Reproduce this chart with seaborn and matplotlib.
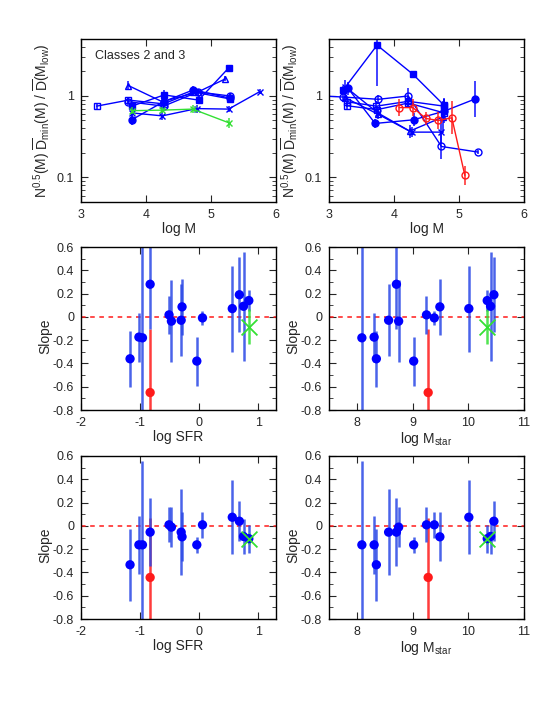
import numpy as np
import pandas as pd
import matplotlib
matplotlib.use("Agg")
import matplotlib.pyplot as plt
import matplotlib.ticker as mticker
import seaborn as sns

# ---- top-left panel: Classes 2 and 3 (x = log M, y = ratio, e = error in dex)
tl_series = {
    "osq":   ([3.24, 3.73, 4.27, 4.73, 5.29], [0.75, 0.89, 0.80, 1.12, 0.92], [0.03, 0.04, 0.05, 0.04, 0.05]),
    "fsq":   ([3.78, 4.28, 4.81, 5.27], [0.75, 1.03, 0.89, 2.2], [0.04, 0.06, 0.05, 0.03]),
    "tri":   ([3.73, 4.25, 4.80, 5.22], [1.34, 0.85, 1.12, 1.62], [0.06, 0.05, 0.04, 0.03]),
    "fci":   ([3.78, 4.27, 4.73, 5.29], [0.51, 0.85, 1.19, 0.94], [0.06, 0.05, 0.05, 0.06]),
    "cross": ([3.78, 4.25, 4.78, 5.27, 5.75], [0.62, 0.57, 0.70, 0.69, 1.13], [0.05, 0.05, 0.05, 0.04, 0.03]),
    "oci":   ([3.73, 4.27, 4.80, 5.29], [0.85, 0.75, 1.12, 1.00], [0.04, 0.04, 0.04, 0.04]),
    "green": ([3.78, 4.25, 4.72, 5.27], [0.66, 0.67, 0.69, 0.47], [0.04, 0.04, 0.05, 0.06]),
}

# ---- top-right panel
tr_series = {
    "fsq":   ([3.22, 3.74, 4.29, 4.77], [1.19, 4.2, 1.85, 0.77], [0.05, 0.5, 0.03, 0.08]),
    "fci":   ([3.29, 3.71, 4.30, 4.77, 5.25], [1.25, 0.46, 0.51, 0.65, 0.92], [0.08, 0.05, 0.08, 0.15, 0.22]),
    "oci":   ([2.9, 3.22, 3.76, 4.22, 4.73, 5.29], [1.0, 0.97, 0.91, 1.0, 0.24, 0.205], [0.0, 0.05, 0.05, 0.1, 0.15, 0.02]),
    "osq":   ([3.27, 3.73, 4.22, 4.77], [0.85, 0.75, 0.86, 0.75], [0.06, 0.06, 0.06, 0.1]),
    "tri":   ([3.25, 3.75, 4.24, 4.75], [0.95, 0.60, 0.37, 0.55], [0.05, 0.06, 0.08, 0.2]),
    "cross": ([3.25, 3.75, 4.27, 4.73], [1.3, 0.62, 0.36, 0.36], [0.08, 0.06, 0.06, 0.15]),
    "osq2":  ([3.27, 3.74, 4.22, 4.77], [0.76, 0.68, 0.82, 0.62], [0.05, 0.05, 0.05, 0.1]),
    "red":   ([4.08, 4.29, 4.49, 4.68, 4.89, 5.09], [0.72, 0.72, 0.53, 0.50, 0.54, 0.106], [0.1, 0.1, 0.08, 0.1, 0.2, 0.12]),
}

# ---- slope panels (one entry per galaxy)
log_sfr = [-1.17, -1.02, -0.96, -0.83, -0.83, -0.51, -0.47, -0.305, -0.29, -0.04, 0.056, 0.56, 0.68, 0.75, 0.84, 0.84]
log_mstar = [8.35, 8.31, 8.09, 8.71, 9.28, 9.25, 8.75, 8.57, 9.49, 9.02, 9.39, 10.01, 10.46, 10.40, 10.34, 10.34]
group = ["b"] * 4 + ["r"] + ["b"] * 10 + ["g"]
slope_mid = [-0.36, -0.174, -0.18, 0.28, -0.65, 0.017, -0.037, -0.029, 0.086, -0.38, -0.009, 0.071, 0.19, 0.091, 0.14, -0.086]
err_mid = [0.24, 0.21, 1.0, 0.38, 0.55, 0.16, 0.35, 0.31, 0.24, 0.21, 0.06, 0.37, 0.32, 0.47, 0.09, 0.15]
slope_bot = [-0.334, -0.163, -0.163, -0.054, -0.443, 0.009, -0.011, -0.054, -0.094, -0.163, 0.009, 0.074, 0.04, -0.091, -0.11, -0.11]
err_bot = [0.31, 0.25, 0.72, 0.29, 0.51, 0.15, 0.17, 0.37, 0.21, 0.07, 0.11, 0.32, 0.17, 0.15, 0.12, 0.05]

BLUE = "#0000ff"
EBLUE = "#2a48e6"
RED = "#ff1a1a"
GREEN = "#33e033"

markers = {
    "osq": ("s", False), "fsq": ("s", True), "tri": ("^", False), "fci": ("o", True),
    "cross": ("x", False), "oci": ("o", False), "osq2": ("s", False),
    "green": ("x", False), "red": ("o", False),
}

sns.set_style("ticks")
plt.rcParams["font.family"] = ["Liberation Sans", "DejaVu Sans"]
plt.rcParams["axes.unicode_minus"] = False
plt.rcParams["mathtext.fontset"] = "custom"
plt.rcParams["mathtext.rm"] = "Liberation Sans"
plt.rcParams["mathtext.it"] = "Liberation Sans:italic"

fig = plt.figure(figsize=(5.54, 7.17), dpi=100)
W, H = 554, 717


def add_ax(x0, y0, x1, y1):
    return fig.add_axes([x0 / W, 1 - y1 / H, (x1 - x0) / W, (y1 - y0) / H])


def style_ax(ax):
    ax.tick_params(direction="in", which="both", top=True, right=True, labelsize=9, length=5, pad=5)
    ax.tick_params(which="minor", length=3)
    for s in ax.spines.values():
        s.set_linewidth(1.0)
        s.set_color("black")


ylab_top = r"N$^{0.5}$(M) $\overline{\rm D}_{\rm min}$(M) / $\overline{\rm D}$(M$_{\rm low}$)"

# ---------------- top panels
for series, (x0, x1) in [(tl_series, (81, 276)), (tr_series, (329, 524))]:
    ax = add_ax(x0, 39, x1, 202)
    for name, (xs, ys, es) in series.items():
        col = GREEN if name == "green" else (RED if name == "red" else BLUE)
        mk, filled = markers[name]
        ys_a = np.array(ys)
        es_a = np.array(es)
        lo = ys_a * (1 - 10 ** (-es_a))
        hi = ys_a * (10 ** es_a - 1)
        ax.errorbar(xs, ys, yerr=[lo, hi], fmt="none", ecolor=col, elinewidth=1.3, alpha=0.8)
        df = pd.DataFrame({"x": xs, "y": ys})
        sns.lineplot(data=df, x="x", y="y", ax=ax, sort=False, color=col, lw=1.0,
                     marker=mk, ms=5, mec=col, mew=1.0,
                     mfc=col if filled else "none")
    ax.set_yscale("log")
    ax.set_xlim(3, 6)
    ax.set_ylim(0.05, 5)
    ax.xaxis.set_major_locator(mticker.FixedLocator([3, 4, 5, 6]))
    ax.yaxis.set_major_locator(mticker.FixedLocator([0.1, 1]))
    ax.yaxis.set_major_formatter(mticker.FixedFormatter(["0.1", "1"]))
    ax.yaxis.set_minor_locator(mticker.LogLocator(subs=np.arange(2, 10)))
    ax.yaxis.set_minor_formatter(mticker.NullFormatter())
    ax.set_xlabel("log M", fontsize=10)
    ax.set_ylabel(ylab_top, fontsize=10)
    ax.xaxis.set_label_coords(0.5, -0.125)
    ax.yaxis.set_label_coords(-0.15, 0.5)
    style_ax(ax)
    if series is tl_series:
        ax.text(0.07, 0.93, "Classes 2 and 3", transform=ax.transAxes, fontsize=9, va="top")

# ---------------- slope panels
colmap = {"b": BLUE, "r": RED, "g": GREEN}
ecolmap = {"b": EBLUE, "r": RED, "g": GREEN}
rows = [(247, 410, slope_mid, err_mid), (456, 619, slope_bot, err_bot)]
cols = [((81, 276), log_sfr, (-2, 1.3), [-2, -1, 0, 1], "log SFR"),
        ((329, 524), log_mstar, (7.5, 11), [8, 9, 10, 11], r"log M$_{\rm star}$")]

for (y0, y1, slope, err) in rows:
    for ((x0, x1), xv, xlim, xt, xlab) in cols:
        ax = add_ax(x0, y0, x1, y1)
        df = pd.DataFrame({"x": xv, "y": slope, "e": err, "g": group})
        ax.axhline(0, color=RED, ls=(0, (3, 3)), lw=1.1, zorder=1)
        for g in ["r", "b", "g"]:
            sub = df[df.g == g]
            ax.errorbar(sub.x, sub.y, yerr=sub.e, fmt="none", ecolor=ecolmap[g],
                        elinewidth=1.8, alpha=0.85, zorder=2)
        circ = df[df.g != "g"]
        sns.scatterplot(data=circ, x="x", y="y", hue="g", palette=colmap, s=45,
                        edgecolor="none", legend=False, ax=ax, zorder=3)
        grn = df[df.g == "g"]
        sns.scatterplot(data=grn, x="x", y="y", color=GREEN, marker="x", s=130,
                        linewidth=1.3, legend=False, ax=ax, zorder=4)
        ax.set_xlim(*xlim)
        ax.set_ylim(-0.8, 0.6)
        ax.xaxis.set_major_locator(mticker.FixedLocator(xt))
        ax.yaxis.set_major_locator(mticker.MultipleLocator(0.2))
        ax.yaxis.set_minor_locator(mticker.MultipleLocator(0.1))
        ax.yaxis.set_major_formatter(mticker.FuncFormatter(lambda v, p: "%g" % round(v, 1)))
        ax.set_xlabel(xlab, fontsize=10)
        ax.set_ylabel("Slope", fontsize=10)
        ax.xaxis.set_label_coords(0.5, -0.125)
        ax.yaxis.set_label_coords(-0.145, 0.45)
        style_ax(ax)

fig.savefig("out.png", dpi=100)
